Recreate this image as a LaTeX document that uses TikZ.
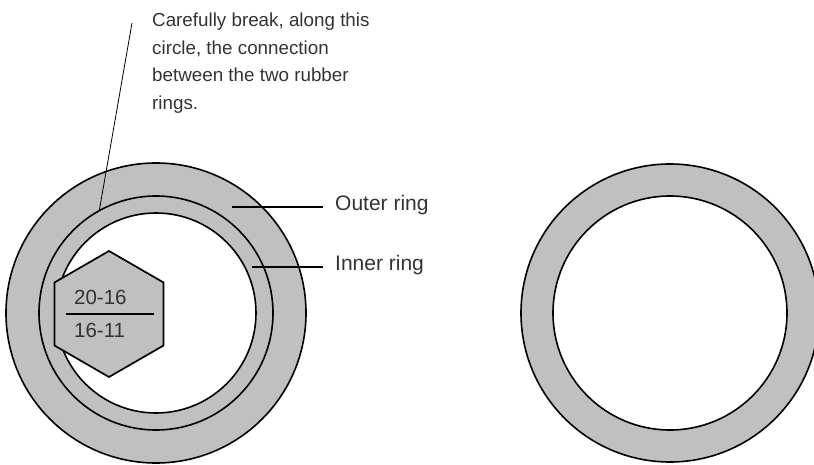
\documentclass[tikz,border=0pt]{standalone}
\usepackage{fontspec}
\setmainfont{Liberation Sans}
\usepackage{tikz}
\usetikzlibrary{shapes.geometric, positioning, calc}
\definecolor{ringgray}{RGB}{192,192,192}
\definecolor{txtgray}{RGB}{51,51,51}

\begin{document}
\begin{tikzpicture}[x=1pt, y=1pt,
    ring/.style={circle, draw, line width=1.6pt, inner sep=0pt, outer sep=0pt},
    lbl/.style={text=txtgray, font=\fontsize{21}{24}\selectfont, inner xsep=12pt, inner ysep=0pt},
    numtxt/.style={text=txtgray, font=\fontsize{20.5}{24}\selectfont, inner sep=0pt},
    leader/.style={line width=1.3pt}]

    \useasboundingbox (0,0) rectangle (814,464);

    % --- Left ring pair (outer + inner rubber ring) ---
    \node[ring, fill=ringgray, minimum size=300pt] (outerL) at (156,151) {};
    \node[ring, minimum size=234pt] (midL) at (156,151) {};
    \node[ring, fill=white, minimum size=200pt] (innerL) at (156,151) {};

    % --- Hex nut with size marking ---
    \node[regular polygon, regular polygon sides=6, shape border rotate=30,
          draw, line width=1.7pt, fill=ringgray, inner sep=0pt,
          minimum size=126pt] (hexnut) at (109,150) {};
    \draw[line width=2.3pt] (66,150) -- (154,150);
    \node[numtxt, anchor=base west] (sizetop) at (74,160) {20-16};
    \node[numtxt, anchor=base west] (sizebot) at (74,127) {16-11};

    % --- Right ring (single) ---
    \node[ring, fill=ringgray, minimum size=298pt] (outerR) at (670,151) {};
    \node[ring, fill=white, minimum size=234pt] (innerR) at (670,151) {};

    % --- Labels and leaders ---
    \coordinate (outerpt) at (232,257);
    \coordinate (innerpt) at (252,197);
    \node[lbl, anchor=west] (outerlbl) at (323,259) {Outer ring};
    \node[lbl, anchor=west] (innerlbl) at (323,199) {Inner ring};
    \draw[leader] (outerpt) -- (outerpt -| outerlbl.west);
    \draw[leader] (innerpt) -- (innerpt -| innerlbl.west);

    % Note on where to break the rings apart
    \node[anchor=north west, align=left, inner sep=0pt, text=txtgray,
          font=\fontsize{18.8}{27.5}\selectfont] (note) at (152,451)
          {Carefully break, along this\\circle, the connection\\between the two rubber\\rings.};
    \coordinate (notetip) at (132,441);
    \draw[line width=0.8pt] (notetip) -- (midL.119.4);

\end{tikzpicture}
\end{document}
